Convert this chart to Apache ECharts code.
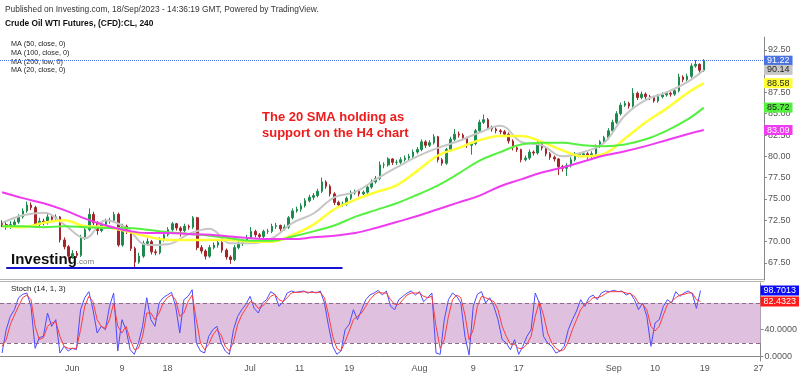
<!DOCTYPE html>
<html>
<head>
<meta charset="utf-8">
<script src="https://cdn.jsdelivr.net/npm/echarts@6/dist/echarts.min.js"></script>
<style>
  html, body { margin: 0; background: #fff; }
  #chart { width: 800px; height: 376px; }
</style>
</head>
<body>
<div id="chart"></div>
<script>
// x axis: one category per half trading day, labels only on a few of them
const tickIdx = [17, 29, 40, 60, 72, 84, 101, 114, 125, 148, 158, 170, 183];
const tickText = ["Jun", "9", "18", "Jul", "11", "19", "Aug", "9", "17", "Sep", "10", "19", "27"];
const nCat = 184;

// candles (Crude Oil WTI, 240)
const opens = [72.2,72.0,71.7,72.0,72.3,72.9,73.6,74.3,74.0,72.0,
  72.4,72.2,72.9,72.6,72.9,70.2,69.4,68.3,68.6,68.4,
  70.5,71.4,73.2,72.2,71.3,72.0,72.4,72.5,73.2,69.6,
  71.8,71.2,69.2,67.6,68.3,69.8,70.0,68.8,68.7,70.2,
  70.8,71.4,72.1,71.6,71.3,71.8,71.7,72.8,69.3,68.9,
  68.3,69.3,69.6,69.9,69.0,68.2,67.9,69.3,69.8,70.0,
  70.5,71.2,70.8,70.6,71.2,71.2,71.8,71.9,71.5,71.7,
  72.8,73.6,73.8,74.2,74.8,75.2,75.4,75.9,77.0,76.5,
  75.6,74.6,74.3,74.4,75.1,75.7,75.9,75.6,75.8,76.4,
  77.0,77.4,79.0,79.0,79.7,79.3,79.3,79.6,79.8,80.0,
  80.5,80.8,81.7,81.3,81.6,82.3,79.6,79.2,80.8,82.0,
  82.6,82.5,82.2,81.3,81.5,83.0,84.0,84.3,83.4,83.2,
  83.0,82.9,82.6,81.8,81.0,80.8,79.6,79.8,80.5,80.4,
  81.5,81.0,80.3,79.9,79.7,78.8,78.6,78.9,79.6,80.1,
  80.2,80.3,80.0,80.3,81.2,81.7,82.2,83.0,84.0,85.0,
  86.0,86.2,85.9,87.4,86.9,87.3,87.0,86.9,86.5,87.0,
  87.2,87.4,87.3,87.7,89.3,89.0,89.4,90.6,90.8,90.1];
const closes = [72.0,71.7,72.0,72.3,72.9,73.6,74.3,74.0,72.0,72.4,
  72.2,72.9,72.6,72.9,70.2,69.4,68.3,68.6,68.4,70.5,
  71.4,73.2,72.2,71.3,72.0,72.4,72.5,73.2,69.6,71.8,
  71.2,69.2,67.6,68.3,69.8,70.0,68.8,68.7,70.2,70.8,
  71.4,72.1,71.6,71.3,71.8,71.7,72.8,69.3,68.9,68.3,
  69.3,69.6,69.9,69.0,68.2,67.9,69.3,69.8,70.0,70.5,
  71.2,70.8,70.6,71.2,71.2,71.8,71.9,71.5,71.7,72.8,
  73.6,73.8,74.2,74.8,75.2,75.4,75.9,77.0,76.5,75.6,
  74.6,74.3,74.4,75.1,75.7,75.9,75.6,75.8,76.4,77.0,
  77.4,79.0,79.0,79.7,79.3,79.3,79.6,79.8,80.0,80.5,
  80.8,81.7,81.3,81.6,82.3,79.6,79.2,80.8,82.0,82.6,
  82.5,82.2,81.3,81.5,83.0,84.0,84.3,83.4,83.2,83.0,
  82.9,82.6,81.8,81.0,80.8,79.6,79.8,80.5,80.4,81.5,
  81.0,80.3,79.9,79.7,78.8,78.6,78.9,79.6,80.1,80.2,
  80.3,80.0,80.3,81.2,81.7,82.2,83.0,84.0,85.0,86.0,
  86.2,85.9,87.4,86.9,87.3,87.0,86.9,86.5,87.0,87.2,
  87.4,87.3,87.7,89.3,89.0,89.4,90.6,90.8,90.1,91.22];
const lows = [71.7,71.4,71.5,71.8,72.1,72.7,73.4,73.7,71.6,71.8,
  71.9,72.0,72.3,72.4,69.9,69.1,67.9,68.0,68.1,68.2,
  70.2,71.2,71.9,70.8,71.1,71.8,72.1,72.3,69.4,69.4,
  70.9,68.9,67.0,67.4,68.1,69.5,68.5,68.4,68.5,70.0,
  70.6,71.2,71.3,70.6,71.1,71.4,71.5,69.0,68.6,67.9,
  68.1,69.1,69.3,68.7,67.9,67.4,67.7,69.1,69.5,69.8,
  70.3,70.5,70.3,70.4,70.9,71.0,71.5,71.2,71.3,71.5,
  72.6,73.4,73.5,74.0,74.6,74.9,75.2,75.7,76.2,75.3,
  74.3,74.1,74.1,74.2,74.9,75.5,75.3,75.4,75.6,76.2,
  76.8,77.2,78.6,78.8,79.0,79.0,79.1,79.4,79.5,79.8,
  80.3,80.6,81.0,81.1,81.4,79.3,78.9,79.0,80.6,81.8,
  82.2,81.9,81.0,80.2,81.3,82.8,83.8,83.1,82.9,82.7,
  82.6,82.3,81.5,80.7,80.5,79.3,79.4,79.6,80.1,80.2,
  80.7,80.0,79.6,79.4,77.8,78.2,77.7,78.7,79.4,79.9,
  80.0,79.7,79.8,80.1,81.0,81.5,82.0,82.8,83.8,84.8,
  85.8,85.6,85.7,86.6,86.7,86.7,86.6,86.3,86.3,86.8,
  87.0,87.0,87.1,87.5,88.7,88.8,89.2,90.4,89.6,89.9];
const highs = [72.5,72.3,72.4,72.6,73.2,73.9,74.7,74.6,74.2,72.8,
  72.7,73.4,73.1,73.2,73.0,70.5,69.6,69.0,68.9,70.8,
  71.7,73.9,73.5,72.4,72.3,72.7,72.8,73.5,73.4,72.1,
  72.0,71.4,69.4,68.7,70.1,70.4,70.2,69.1,70.5,71.1,
  71.7,72.3,72.2,71.8,72.1,72.0,73.0,72.9,69.6,69.1,
  69.6,69.9,70.2,70.1,69.2,68.4,69.6,70.1,70.3,70.8,
  71.7,71.4,71.0,71.4,71.5,72.1,72.2,72.0,72.0,73.0,
  73.9,74.1,74.5,75.1,75.5,75.7,76.2,77.5,77.2,76.7,
  75.8,74.8,74.7,75.3,76.0,76.1,76.1,76.0,76.7,77.3,
  77.7,79.4,79.3,79.9,79.8,79.6,79.9,80.1,80.3,80.8,
  81.1,82.0,81.9,81.9,82.6,82.4,79.8,81.0,82.3,83.2,
  82.9,82.7,82.3,81.7,83.2,84.3,84.9,84.5,83.6,83.4,
  83.2,83.1,82.8,82.0,81.2,80.9,80.1,80.8,80.7,81.9,
  81.7,81.2,80.5,80.1,79.8,79.0,79.2,79.9,80.5,80.4,
  80.6,80.5,80.6,81.4,81.9,82.4,83.3,84.3,85.3,86.3,
  86.5,86.4,88.0,87.6,87.6,87.5,87.2,87.1,87.3,87.5,
  87.6,87.6,88.0,89.7,89.5,89.7,90.9,91.3,90.9,91.4];

// moving averages, sampled at these candle indices
const maIdx = [0,5,10,15,20,25,30,35,40,45,50,55,60,65,70,75,80,85,90,95,
  100,105,110,115,120,125,130,135,140,145,150,155,160,165,169];
const ma20 = [72.2,73.1,73.4,72.0,70.4,72.5,71.6,69.6,69.7,70.9,71.5,69.8,69.8,70.4,72.2,73.3,75.2,75.8,77.3,78.7,
  80.0,81.0,81.8,82.8,83.6,81.7,81.3,80.0,80.5,81.6,84.8,86.6,87.5,88.7,90.14];
const ma50 = [71.8,71.7,72.2,72.5,71.8,71.7,71.2,70.6,70.2,70.2,70.2,70.2,70.0,70.0,70.8,72.0,73.8,74.9,75.8,76.6,
  78.3,80.1,81.0,81.9,82.4,82.4,81.7,80.7,80.0,80.3,82.1,84.0,85.6,87.4,88.58];
const ma100 = [71.8,71.8,71.7,71.8,71.7,71.6,71.6,71.4,71.1,70.9,70.7,70.4,70.1,70.1,70.6,71.2,71.9,72.9,73.7,74.5,
  75.5,76.6,78.0,79.5,80.5,81.4,81.6,81.6,81.3,81.2,81.4,82.0,83.0,84.3,85.72];
const ma200 = [75.8,75.1,74.5,73.7,72.7,71.9,71.3,71.0,71.0,70.9,70.8,70.6,70.4,70.3,70.3,70.5,70.7,71.0,71.6,72.3,
  73.0,73.8,74.6,75.4,76.5,77.3,78.1,78.7,79.4,80.1,80.6,81.2,81.9,82.6,83.09];

// Stoch (14, 1, 3)
const stochK = [5,40,60,70,88,93,95,75,12,28,
  30,65,45,55,5,15,8,12,10,70,
  88,97,70,35,45,40,75,95,8,55,
  40,10,3,20,45,88,55,45,80,88,
  92,96,75,35,85,90,100,20,8,5,
  30,40,45,20,8,3,40,60,70,78,
  90,72,65,80,85,97,93,75,82,95,
  98,96,97,98,95,97,95,98,80,45,
  15,3,8,40,48,70,55,70,85,92,
  95,99,92,98,75,70,85,90,95,98,
  92,97,82,88,95,5,3,55,85,95,
  90,80,30,2,75,93,97,80,88,75,
  55,25,20,10,25,3,15,30,40,95,
  80,30,20,15,5,8,15,40,55,68,
  85,75,88,92,85,95,98,97,99,97,
  98,92,95,85,70,80,60,15,50,55,
  75,85,80,97,90,95,98,94,72,98.7013];
const stochD = [15,25,48,62,75,88,92,85,45,25,
  28,45,50,52,30,15,12,12,12,40,
  75,90,82,55,45,42,55,80,45,35,
  45,25,10,12,30,65,65,55,65,80,
  88,92,85,60,65,82,92,55,20,10,
  18,32,40,32,15,8,22,48,62,72,
  82,80,72,75,82,90,93,85,82,88,
  95,96,96,97,96,96,96,96,88,62,
  30,12,8,22,38,55,60,65,75,85,
  92,96,95,95,85,78,78,85,92,95,
  95,95,90,88,90,45,12,25,60,85,
  92,88,62,25,40,75,90,88,85,82,
  70,45,30,18,18,12,12,18,30,60,
  82,62,35,20,12,8,10,22,40,55,
  70,78,82,88,88,90,94,97,97,97,
  97,95,94,90,80,78,70,45,38,45,
  62,78,82,88,92,93,95,95,85,82.4323];

const priceTicks = [67.5, 70, 72.5, 75, 77.5, 80, 82.5, 85, 87.5, 90, 92.5];
const stochTicks = [0, 40];
const stochBand = [20, 80];
const supportIdx = [1, 82];
const supportPrice = 66.9;

const FONT = '"Liberation Sans", Arial, sans-serif';
const cats = Array.from({ length: nCat }, (_, i) => String(i));
const showTick = (idx) => tickIdx.includes(idx);

// value tag on the right axis (line itself not drawn)
function tag(value, bg, fg, digits) {
  return {
    yAxis: value,
    lineStyle: { color: "rgba(0,0,0,0)", width: 0 },
    label: {
      show: true,
      position: "end",
      distance: 0,
      formatter: () => value.toFixed(digits),
      backgroundColor: bg,
      color: fg,
      fontSize: 9,
      fontFamily: FONT,
      padding: [1, 3, 0, 3],
    },
  };
}

function maSeries(name, values, color, width, fg) {
  return {
    name: name,
    type: "line",
    xAxisIndex: 0,
    yAxisIndex: 0,
    data: maIdx.map((ix, k) => [ix, values[k]]),
    smooth: 0.4,
    symbol: "none",
    lineStyle: { color: color, width: width },
    markLine: {
      symbol: "none",
      silent: true,
      animation: false,
      data: [tag(values[values.length - 1], color, fg, 2)],
    },
  };
}

const chart = echarts.init(document.getElementById("chart"), null, { renderer: "canvas" });

chart.setOption({
  animation: false,
  backgroundColor: "#fff",
  grid: [
    { left: 0, right: 36, top: 37, height: 243 },
    { left: 0, right: 36, top: 283, height: 78 },
  ],
  xAxis: [
    { gridIndex: 0, type: "category", data: cats, show: false },
    {
      gridIndex: 1,
      type: "category",
      data: cats,
      axisLine: { lineStyle: { color: "#888" } },
      axisTick: { interval: showTick, alignWithLabel: true, length: 3, lineStyle: { color: "#888" } },
      axisLabel: {
        interval: showTick,
        formatter: (v) => tickText[tickIdx.indexOf(+v)],
        fontSize: 9,
        fontFamily: FONT,
        color: "#555",
        margin: 3,
      },
    },
  ],
  yAxis: [
    {
      gridIndex: 0,
      type: "value",
      position: "right",
      min: 65.5,
      max: 94,
      splitLine: { show: false },
      axisLine: { show: true, lineStyle: { color: "#888" } },
      axisTick: { show: true, customValues: priceTicks, length: 3, lineStyle: { color: "#888" } },
      axisLabel: {
        customValues: priceTicks,
        formatter: (v) => v.toFixed(2),
        fontSize: 9,
        fontFamily: FONT,
        color: "#555",
        margin: 4,
      },
    },
    {
      gridIndex: 1,
      type: "value",
      position: "right",
      min: -7,
      max: 110,
      splitLine: { show: false },
      axisLine: { show: true, lineStyle: { color: "#888" } },
      axisTick: { show: true, customValues: stochTicks, length: 3, lineStyle: { color: "#888" } },
      axisLabel: {
        customValues: stochTicks,
        formatter: (v) => v.toFixed(4),
        fontSize: 9,
        fontFamily: FONT,
        color: "#555",
        margin: 4,
      },
    },
  ],
  series: [
    {
      name: "CL",
      type: "candlestick",
      xAxisIndex: 0,
      yAxisIndex: 0,
      barMaxWidth: 3,
      data: opens.map((o, i) => [o, closes[i], lows[i], highs[i]]),
      itemStyle: {
        color: "#1d8a4e",
        color0: "#a3262a",
        borderColor: "#1d8a4e",
        borderColor0: "#a3262a",
        borderWidth: 1,
      },
      markLine: {
        symbol: "none",
        silent: true,
        animation: false,
        data: [
          {
            yAxis: closes[closes.length - 1],
            lineStyle: { color: "#4a72e0", type: "dotted", width: 1 },
            label: {
              show: true,
              position: "end",
              distance: 0,
              formatter: (p) => p.value.toFixed(2),
              backgroundColor: "#4a72e0",
              color: "#fff",
              fontSize: 9,
              fontFamily: FONT,
              padding: [1, 3, 0, 3],
            },
          },
        ],
      },
    },
    maSeries("MA20", ma20, "#c6c6c6", 2, "#222"),
    maSeries("MA50", ma50, "#ffff33", 2.5, "#222"),
    maSeries("MA100", ma100, "#55f040", 2, "#222"),
    maSeries("MA200", ma200, "#f03cf0", 2, "#fff"),
    {
      name: "support",
      type: "line",
      xAxisIndex: 0,
      yAxisIndex: 0,
      data: supportIdx.map((ix) => [ix, supportPrice]),
      symbol: "none",
      lineStyle: { color: "#1414d2", width: 2 },
    },
    {
      name: "%K",
      type: "line",
      xAxisIndex: 1,
      yAxisIndex: 1,
      data: stochK,
      symbol: "none",
      lineStyle: { color: "#4b4bff", width: 1 },
      markArea: {
        silent: true,
        itemStyle: { color: "#dfc0df" },
        data: [[{ yAxis: stochBand[0] }, { yAxis: stochBand[1] }]],
      },
      markLine: {
        symbol: "none",
        silent: true,
        animation: false,
        data: [
          { yAxis: stochBand[0], lineStyle: { color: "#8a6c8a", type: [4, 3], width: 1 }, label: { show: false } },
          { yAxis: stochBand[1], lineStyle: { color: "#8a6c8a", type: [4, 3], width: 1 }, label: { show: false } },
          tag(stochK[stochK.length - 1], "#0a0aff", "#fff", 4),
        ],
      },
    },
    {
      name: "%D",
      type: "line",
      xAxisIndex: 1,
      yAxisIndex: 1,
      data: stochD,
      symbol: "none",
      lineStyle: { color: "#ff3b3b", width: 1 },
      markLine: {
        symbol: "none",
        silent: true,
        animation: false,
        data: [tag(stochD[stochD.length - 1], "#ff1a1a", "#fff", 4)],
      },
    },
  ],
  graphic: [
    { type: "line", shape: { x1: 0, y1: 279.5, x2: 764, y2: 279.5 }, style: { stroke: "#b4b4b4", lineWidth: 1 } },
    { type: "line", shape: { x1: 0, y1: 281.5, x2: 764, y2: 281.5 }, style: { stroke: "#b4b4b4", lineWidth: 1 } },
    {
      type: "text", left: 5, top: 6,
      style: { text: "Published on Investing.com, 18/Sep/2023 - 14:36:19 GMT, Powered by TradingView.", font: "8.4px " + FONT, fill: "#333" },
    },
    {
      type: "text", left: 5, top: 20,
      style: { text: "Crude Oil WTI Futures, (CFD):CL, 240", font: "bold 8.4px " + FONT, fill: "#111" },
    },
    {
      type: "text", left: 11, top: 40,
      style: { text: "MA (50, close, 0)\nMA (100, close, 0)\nMA (200, low, 0)\nMA (20, close, 0)", font: "7.2px " + FONT, lineHeight: 8.7, fill: "#222" },
    },
    {
      type: "text", left: 262, top: 109,
      style: { text: "The 20 SMA holding as\nsupport on the H4 chart", font: "bold 13px " + FONT, lineHeight: 16, fill: "#ee1c1c", align: "center" },
    },
    {
      type: "text", left: 11, top: 252,
      style: {
        text: "{a|Investing}{b|.com}",
        rich: {
          a: { font: "bold 15px " + FONT, fill: "#111" },
          b: { font: "8px " + FONT, fill: "#777", padding: [5, 0, 0, 0] },
        },
      },
    },
    {
      type: "text", left: 11, top: 285,
      style: { text: "Stoch (14, 1, 3)", font: "8px " + FONT, fill: "#222" },
    },
  ],
});
</script>
</body>
</html>
